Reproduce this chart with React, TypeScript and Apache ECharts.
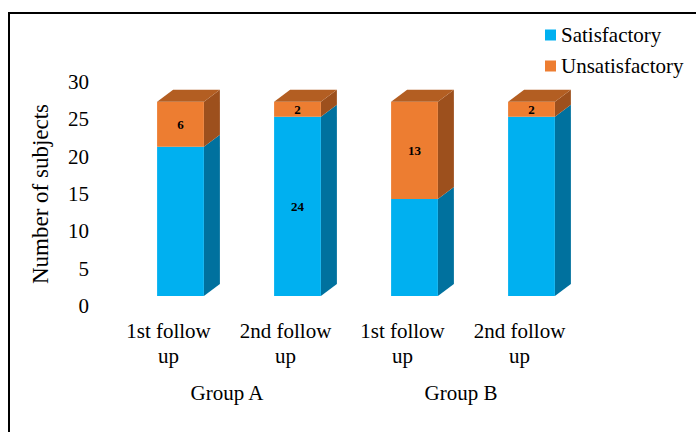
import React, { useEffect, useRef } from 'react';
import * as echarts from 'echarts';

// Follow-up outcomes per group
const categories = ['1st follow\nup', '2nd follow\nup', '1st follow\nup', '2nd follow\nup'];
const groups = ['Group A', 'Group B'];
const satisfactory = [20, 24, 13, 24];
const unsatisfactory = [6, 2, 13, 2];
const satisfactoryLabelled = [false, true, false, false];
const unsatisfactoryLabelled = [true, true, true, true];
const yMin = 0;
const yMax = 30;
const yInterval = 5;

const FONT = 'Liberation Serif';

// Pseudo-3D box geometry (pixels)
const DEPTH_X = 16;
const DEPTH_Y = -12;
const BAR_SHIFT_X = 12;
const BAR_SHIFT_Y = -10;
const BAR_RATIO = 0.4;

const palette = {
  Satisfactory: { front: '#00B0F0', side: '#00719E', top: '#0089BC' },
  Unsatisfactory: { front: '#ED7D31', side: '#9D501D', top: '#B35E22' },
};

type Faces = { front: string; side: string; top: string };

const makeRenderer = (colors: Faces) => (params: any, api: any) => {
  const idx = api.value(0);
  const base = api.value(1);
  const val = api.value(2);
  const labelled = api.value(3);
  const capped = api.value(4);
  const pBottom = api.coord([idx, base]);
  const pTop = api.coord([idx, base + val]);
  const band = api.size([1, 0])[0];
  const w = band * BAR_RATIO;
  const cx = pBottom[0] + BAR_SHIFT_X;
  const x0 = cx - w / 2;
  const x1 = cx + w / 2;
  const yb = pBottom[1] + BAR_SHIFT_Y;
  const yt = pTop[1] + BAR_SHIFT_Y;
  const children: any[] = [
    {
      type: 'polygon',
      shape: { points: [[x1, yt], [x1 + DEPTH_X, yt + DEPTH_Y], [x1 + DEPTH_X, yb + DEPTH_Y], [x1, yb]] },
      style: { fill: colors.side },
    },
    {
      type: 'rect',
      shape: { x: x0, y: yt, width: w, height: yb - yt },
      style: { fill: colors.front },
    },
  ];
  if (capped) {
    children.push({
      type: 'polygon',
      shape: { points: [[x0, yt], [x0 + DEPTH_X, yt + DEPTH_Y], [x1 + DEPTH_X, yt + DEPTH_Y], [x1, yt]] },
      style: { fill: colors.top },
    });
  }
  if (labelled) {
    children.push({
      type: 'text',
      x: cx,
      y: (yt + yb) / 2,
      style: {
        text: String(val),
        align: 'center',
        verticalAlign: 'middle',
        fontFamily: FONT,
        fontWeight: 'bold',
        fontSize: 13,
        fill: '#000',
      },
    });
  }
  return { type: 'group', children };
};

export default function App() {
  const ref = useRef<HTMLDivElement>(null);

  useEffect(() => {
    if (!ref.current) return;
    const chart = echarts.init(ref.current, undefined, { renderer: 'svg' });

    const satData = satisfactory.map((v, i) => [
      i, 0, v, satisfactoryLabelled[i] ? 1 : 0, unsatisfactory[i] === 0 ? 1 : 0,
    ]);
    const unsatData = unsatisfactory.map((v, i) => [
      i, satisfactory[i], v, unsatisfactoryLabelled[i] ? 1 : 0, 1,
    ]);

    const textBase = { fontFamily: FONT, color: '#000' };

    chart.setOption({
      animation: false,
      backgroundColor: '#fff',
      textStyle: { fontFamily: FONT },
      graphic: [
        {
          type: 'rect',
          shape: { x: 9, y: 13, width: 700, height: 440 },
          style: { fill: 'none', stroke: '#000', lineWidth: 2 },
          silent: true,
        },
      ],
      legend: {
        orient: 'vertical',
        left: 540,
        top: 18,
        itemWidth: 11,
        itemHeight: 11,
        itemGap: 7,
        icon: 'rect',
        data: ['Satisfactory', 'Unsatisfactory'],
        textStyle: { fontFamily: FONT, color: '#000', fontSize: 21, lineHeight: 24 },
      },
      grid: { left: 110, right: 118, top: 82, bottom: 126 },
      xAxis: [
        {
          type: 'category',
          data: categories,
          position: 'bottom',
          axisLine: { show: false },
          axisTick: { show: false },
          axisLabel: { ...textBase, fontSize: 21, lineHeight: 25, margin: 12, interval: 0 },
        },
        {
          type: 'category',
          data: groups,
          position: 'bottom',
          axisLine: { show: false },
          axisTick: { show: false },
          axisLabel: { ...textBase, fontSize: 21, lineHeight: 24, margin: 75, interval: 0 },
        },
      ],
      yAxis: {
        type: 'value',
        min: yMin,
        max: yMax,
        interval: yInterval,
        name: 'Number of subjects',
        nameLocation: 'middle',
        nameRotate: 90,
        nameGap: 58,
        nameTextStyle: { ...textBase, fontSize: 23 },
        axisLine: { show: false },
        axisTick: { show: false },
        splitLine: { show: false },
        axisLabel: { ...textBase, fontSize: 21, margin: 21 },
      },
      series: [
        {
          name: 'Satisfactory',
          type: 'custom',
          xAxisIndex: 0,
          yAxisIndex: 0,
          itemStyle: { color: palette.Satisfactory.front },
          renderItem: makeRenderer(palette.Satisfactory),
          encode: { x: 0, y: 2 },
          data: satData,
        },
        {
          name: 'Unsatisfactory',
          type: 'custom',
          xAxisIndex: 0,
          yAxisIndex: 0,
          itemStyle: { color: palette.Unsatisfactory.front },
          renderItem: makeRenderer(palette.Unsatisfactory),
          encode: { x: 0, y: 2 },
          data: unsatData,
        },
      ],
    });

    return () => chart.dispose();
  }, []);

  return (
    <div
      ref={ref}
      style={{ position: 'absolute', left: 0, top: 0, width: 696, height: 432 }}
    />
  );
}
